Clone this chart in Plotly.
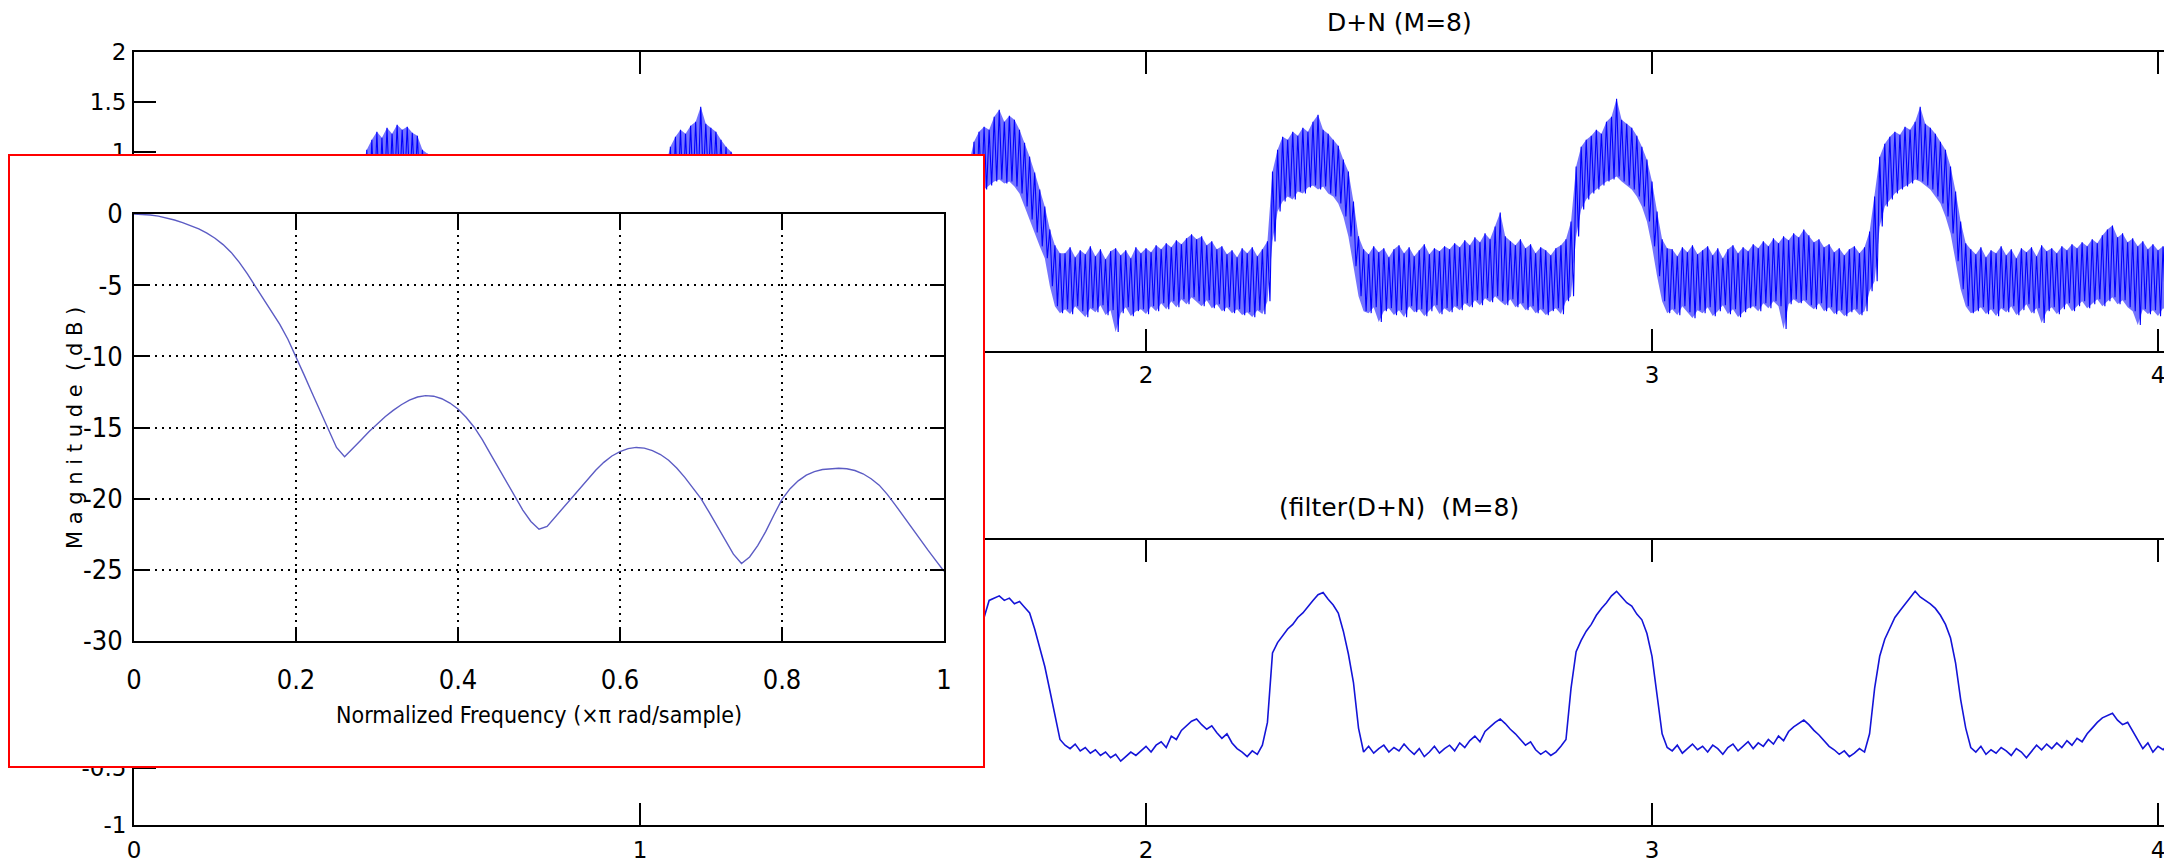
import plotly.graph_objects as go

W, H = 2172, 864
OFF = 8  # the page body margin shifts the figure by 8 px right and down

# ------------------------------------------------------------------ data
time_step = 0.01  # sample spacing of the digitised signals (x from 0.00 to 4.03)

# noisy signal D+N : upper / lower edge of the noise band at each sample
dn_upper = [
    0.02, -0.05, 0.04, -0.01, 0.06, -0.03, 0.01, 0.08, -0.04, 0.03,
    -0.02, 0.05, 0.00, -0.06, 0.04, 0.10, -0.01, 0.03, -0.05, 0.02,
    0.06, -0.02, 0.04, 0.09, 0.03, 0.12, 0.07, 0.16, 0.10, 0.21,
    0.14, 0.18, 0.08, 0.05, 0.11, -0.02, 0.04, -0.05, 0.02, -0.03,
    0.05, -0.04, 0.01, 0.07, 0.10, 0.82, 1.02, 1.12, 1.20, 1.14,
    1.24, 1.18, 1.27, 1.22, 1.25, 1.19, 1.16, 1.02, 0.98, 0.88,
    0.70, 0.42, 0.16, 0.05, -0.03, 0.06, 0.01, -0.05, 0.04, 0.00,
    0.07, -0.02, 0.03, -0.06, 0.05, 0.02, -0.04, 0.08, 0.01, -0.03,
    0.04, 0.09, 0.02, 0.12, 0.06, 0.15, 0.10, 0.19, 0.13, 0.22,
    0.16, 0.11, 0.07, 0.13, 0.03, -0.02, 0.05, -0.04, 0.02, 0.06,
    -0.03, 0.04, -0.01, 0.05, 0.12, 0.85, 1.05, 1.15, 1.22, 1.18,
    1.26, 1.30, 1.45, 1.28, 1.24, 1.20, 1.12, 1.05, 1.00, 0.92,
    0.72, 0.40, 0.12, 0.03, -0.04, 0.05, 0.00, -0.06, 0.03, 0.07,
    -0.02, 0.04, -0.05, 0.01, 0.06, -0.03, 0.02, 0.08, -0.01, 0.04,
    0.09, 0.03, 0.13, 0.07, 0.17, 0.11, 0.20, 0.14, 0.08, 0.12,
    0.05, 0.01, -0.04, 0.06, -0.02, 0.03, -0.06, 0.04, 0.00, -0.03,
    0.05, -0.01, 0.03, 0.08, 0.15, 0.88, 1.10, 1.20, 1.25, 1.22,
    1.35, 1.42, 1.30, 1.36, 1.32, 1.22, 1.09, 0.95, 0.79, 0.62,
    0.45, 0.22, 0.06, -0.02, -0.02, 0.04, -0.06, 0.01, -0.03, 0.05,
    -0.05, 0.02, -0.08, 0.00, 0.03, -0.04, 0.01, -0.07, 0.04, -0.02,
    0.03, -0.01, 0.06, 0.02, 0.08, 0.04, 0.11, 0.07, 0.13, 0.17,
    0.12, 0.15, 0.06, 0.10, 0.02, 0.05, -0.03, 0.01, -0.06, 0.03,
    -0.02, 0.04, -0.05, 0.02, 0.10, 0.80, 1.02, 1.15, 1.12, 1.20,
    1.16, 1.24, 1.20, 1.30, 1.37, 1.22, 1.18, 1.12, 1.06, 0.92,
    0.80, 0.50, 0.15, 0.02, -0.03, 0.05, -0.01, 0.03, -0.06, 0.02,
    0.06, -0.02, 0.04, -0.05, 0.01, 0.07, -0.03, 0.03, 0.00, 0.05,
    0.02, 0.08, 0.04, 0.11, 0.06, 0.14, 0.09, 0.18, 0.12, 0.25,
    0.39, 0.15, 0.10, 0.06, 0.12, 0.03, 0.07, -0.02, 0.04, 0.01,
    -0.04, 0.03, 0.06, 0.12, 0.30, 0.85, 1.05, 1.12, 1.16, 1.22,
    1.18, 1.30, 1.35, 1.53, 1.32, 1.28, 1.24, 1.16, 1.05, 0.92,
    0.70, 0.40, 0.12, 0.03, 0.02, -0.05, 0.04, -0.01, 0.06, -0.03,
    0.01, 0.05, -0.04, 0.03, -0.07, 0.02, 0.06, -0.02, 0.04, 0.00,
    0.07, 0.03, 0.10, 0.05, 0.13, 0.08, 0.15, 0.11, 0.18, 0.14,
    0.22, 0.16, 0.09, 0.12, 0.04, 0.07, -0.01, 0.03, -0.04, 0.02,
    0.05, -0.02, 0.04, 0.20, 0.55, 0.95, 1.08, 1.15, 1.20, 1.17,
    1.25, 1.22, 1.30, 1.45, 1.28, 1.24, 1.18, 1.10, 1.02, 0.85,
    0.60, 0.30, 0.08, 0.02, -0.03, 0.04, -0.06, 0.01, -0.02, 0.05,
    -0.04, 0.02, -0.07, 0.03, -0.01, 0.04, -0.05, 0.06, 0.00, 0.03,
    -0.02, 0.05, 0.01, 0.07, 0.03, 0.09, 0.05, 0.12, 0.08, 0.16,
    0.22, 0.26, 0.14, 0.18, 0.09, 0.13, 0.05, 0.10, 0.02, 0.07,
    0.01, 0.05, -0.02, 0.03,
]

dn_lower = [
    -0.60, -0.55, -0.63, -0.58, -0.66, -0.57, -0.61, -0.54, -0.64, -0.59,
    -0.56, -0.62, -0.58, -0.65, -0.60, -0.53, -0.61, -0.57, -0.64, -0.59,
    -0.55, -0.60, -0.53, -0.58, -0.51, -0.56, -0.49, -0.54, -0.47, -0.52,
    -0.48, -0.53, -0.57, -0.51, -0.59, -0.55, -0.62, -0.58, -0.64, -0.60,
    -0.57, -0.63, -0.59, -0.61, -0.52, 0.08, 0.42, 0.50, 0.55, 0.60,
    0.62, 0.66, 0.68, 0.70, 0.67, 0.65, 0.60, 0.55, 0.45, 0.30,
    0.05, -0.25, -0.50, -0.60, -0.57, -0.63, -0.59, -0.66, -0.61, -0.56,
    -0.62, -0.58, -0.65, -0.60, -0.54, -0.63, -0.59, -0.66, -0.61, -0.57,
    -0.60, -0.55, -0.58, -0.51, -0.56, -0.49, -0.53, -0.47, -0.51, -0.46,
    -0.50, -0.55, -0.59, -0.53, -0.61, -0.57, -0.63, -0.60, -0.66, -0.61,
    -0.58, -0.64, -0.59, -0.62, -0.50, 0.10, 0.44, 0.52, 0.58, 0.61,
    0.65, 0.68, 0.70, 0.72, 0.68, 0.64, 0.60, 0.53, 0.42, 0.28,
    0.02, -0.28, -0.52, -0.61, -0.58, -0.64, -0.60, -0.67, -0.62, -0.57,
    -0.63, -0.59, -0.66, -0.61, -0.55, -0.62, -0.58, -0.65, -0.60, -0.56,
    -0.59, -0.54, -0.57, -0.50, -0.55, -0.48, -0.52, -0.46, -0.50, -0.54,
    -0.49, -0.56, -0.60, -0.54, -0.62, -0.58, -0.64, -0.59, -0.66, -0.62,
    -0.59, -0.65, -0.60, -0.63, -0.55, 0.05, 0.45, 0.58, 0.62, 0.66,
    0.70, 0.72, 0.68, 0.70, 0.65, 0.58, 0.45, 0.32, 0.19, 0.05,
    -0.07, -0.35, -0.55, -0.62, -0.58, -0.63, -0.55, -0.60, -0.66, -0.57,
    -0.61, -0.54, -0.64, -0.59, -0.81, -0.62, -0.56, -0.65, -0.60, -0.58,
    -0.63, -0.55, -0.60, -0.52, -0.58, -0.50, -0.56, -0.48, -0.53, -0.46,
    -0.50, -0.55, -0.49, -0.57, -0.53, -0.60, -0.56, -0.62, -0.58, -0.64,
    -0.61, -0.66, -0.59, -0.63, -0.50, 0.10, 0.40, 0.50, 0.55, 0.52,
    0.60, 0.58, 0.64, 0.66, 0.62, 0.65, 0.58, 0.55, 0.48, 0.35,
    0.15, -0.15, -0.45, -0.60, -0.62, -0.56, -0.71, -0.60, -0.57, -0.64,
    -0.59, -0.66, -0.55, -0.61, -0.58, -0.65, -0.60, -0.54, -0.63, -0.57,
    -0.61, -0.55, -0.59, -0.52, -0.56, -0.49, -0.54, -0.47, -0.51, -0.45,
    -0.50, -0.54, -0.48, -0.56, -0.52, -0.59, -0.55, -0.62, -0.58, -0.64,
    -0.60, -0.57, -0.63, -0.50, -0.45, 0.15, 0.42, 0.52, 0.58, 0.62,
    0.66, 0.70, 0.72, 0.75, 0.70, 0.66, 0.62, 0.55, 0.45, 0.30,
    0.05, -0.25, -0.50, -0.62, -0.58, -0.64, -0.55, -0.61, -0.67, -0.59,
    -0.62, -0.56, -0.65, -0.60, -0.54, -0.63, -0.58, -0.66, -0.61, -0.57,
    -0.55, -0.60, -0.52, -0.57, -0.50, -0.55, -0.78, -0.53, -0.48, -0.52,
    -0.49, -0.54, -0.58, -0.52, -0.60, -0.56, -0.63, -0.59, -0.65, -0.61,
    -0.58, -0.64, -0.60, -0.40, -0.30, 0.25, 0.45, 0.52, 0.58, 0.62,
    0.65, 0.68, 0.72, 0.70, 0.66, 0.62, 0.55, 0.48, 0.35, 0.18,
    -0.10, -0.38, -0.55, -0.62, -0.60, -0.56, -0.63, -0.58, -0.65, -0.57,
    -0.61, -0.55, -0.64, -0.59, -0.53, -0.62, -0.57, -0.72, -0.60, -0.56,
    -0.63, -0.58, -0.52, -0.60, -0.55, -0.50, -0.57, -0.53, -0.48, -0.55,
    -0.50, -0.46, -0.53, -0.49, -0.56, -0.60, -0.74, -0.58, -0.63, -0.59,
    -0.65, -0.57, -0.62, -0.60,
]

# filtered signal filter(D+N)
filtered = [
    -0.30, -0.34, -0.31, -0.36, -0.33, -0.29, -0.35, -0.38, -0.32, -0.30,
    -0.34, -0.37, -0.31, -0.28, -0.33, -0.36, -0.30, -0.34, -0.39, -0.33,
    -0.29, -0.33, -0.30, -0.35, -0.31, -0.27, -0.22, -0.17, -0.12, -0.09,
    -0.08, -0.13, -0.18, -0.25, -0.30, -0.34, -0.31, -0.37, -0.40, -0.36,
    -0.33, -0.38, -0.35, -0.31, -0.30, 0.45, 0.58, 0.66, 0.73, 0.77,
    0.84, 0.87, 0.94, 0.99, 1.03, 1.01, 0.96, 0.92, 0.87, 0.70,
    0.43, 0.04, -0.23, -0.35, -0.32, -0.38, -0.34, -0.30, -0.36, -0.41,
    -0.37, -0.33, -0.39, -0.42, -0.36, -0.31, -0.35, -0.38, -0.33, -0.29,
    -0.34, -0.31, -0.37, -0.35, -0.30, -0.26, -0.20, -0.14, -0.09, -0.11,
    -0.16, -0.22, -0.29, -0.33, -0.37, -0.34, -0.39, -0.36, -0.41, -0.37,
    -0.33, -0.38, -0.36, -0.32, -0.28, 0.47, 0.59, 0.68, 0.72, 0.79,
    0.82, 0.89, 0.92, 0.99, 1.05, 1.02, 0.98, 0.93, 0.86, 0.73,
    0.46, 0.06, -0.21, -0.33, -0.36, -0.31, -0.38, -0.35, -0.40, -0.34,
    -0.37, -0.43, -0.38, -0.33, -0.36, -0.31, -0.35, -0.39, -0.32, -0.30,
    -0.35, -0.31, -0.28, -0.33, -0.27, -0.21, -0.15, -0.10, -0.08, -0.13,
    -0.19, -0.24, -0.30, -0.35, -0.32, -0.38, -0.36, -0.41, -0.37, -0.33,
    -0.38, -0.35, -0.39, -0.34, -0.30, 0.45, 0.62, 0.72, 0.82, 0.97,
    0.99, 1.01, 0.97, 0.99, 0.94, 0.96, 0.91, 0.86, 0.72, 0.55,
    0.39, 0.18, -0.05, -0.25, -0.30, -0.33, -0.29, -0.35, -0.32, -0.37,
    -0.34, -0.39, -0.36, -0.41, -0.38, -0.44, -0.40, -0.36, -0.39, -0.35,
    -0.31, -0.36, -0.30, -0.27, -0.32, -0.22, -0.25, -0.17, -0.13, -0.09,
    -0.07, -0.12, -0.16, -0.13, -0.19, -0.24, -0.20, -0.28, -0.33, -0.36,
    -0.40, -0.35, -0.38, -0.30, -0.10, 0.51, 0.60, 0.66, 0.72, 0.76,
    0.82, 0.86, 0.92, 0.97, 1.02, 1.04, 0.98, 0.93, 0.86, 0.70,
    0.50, 0.25, -0.15, -0.36, -0.31, -0.37, -0.33, -0.30, -0.36, -0.32,
    -0.35, -0.29, -0.34, -0.38, -0.33, -0.40, -0.36, -0.31, -0.37, -0.33,
    -0.30, -0.35, -0.28, -0.32, -0.26, -0.22, -0.27, -0.18, -0.14, -0.10,
    -0.07, -0.11, -0.16, -0.20, -0.25, -0.30, -0.27, -0.34, -0.38, -0.35,
    -0.39, -0.36, -0.31, -0.25, 0.20, 0.52, 0.62, 0.70, 0.76, 0.84,
    0.90, 0.95, 1.01, 1.05, 1.00, 0.95, 0.92, 0.85, 0.80, 0.68,
    0.48, 0.15, -0.20, -0.32, -0.35, -0.30, -0.37, -0.33, -0.29, -0.34,
    -0.31, -0.36, -0.30, -0.33, -0.38, -0.32, -0.29, -0.35, -0.31, -0.27,
    -0.33, -0.28, -0.31, -0.25, -0.29, -0.22, -0.26, -0.18, -0.14, -0.11,
    -0.08, -0.12, -0.17, -0.21, -0.26, -0.31, -0.34, -0.38, -0.35, -0.40,
    -0.37, -0.33, -0.36, -0.20, 0.20, 0.48, 0.63, 0.72, 0.82, 0.88,
    0.94, 0.99, 1.05, 1.00, 0.97, 0.94, 0.90, 0.84, 0.76, 0.64,
    0.42, 0.10, -0.15, -0.32, -0.36, -0.31, -0.38, -0.34, -0.37, -0.32,
    -0.35, -0.39, -0.33, -0.36, -0.41, -0.35, -0.30, -0.34, -0.29, -0.33,
    -0.28, -0.32, -0.26, -0.30, -0.24, -0.27, -0.20, -0.15, -0.10, -0.06,
    -0.04, -0.02, -0.08, -0.12, -0.10, -0.18, -0.25, -0.33, -0.28, -0.36,
    -0.31, -0.34, -0.29, -0.33,
]

# magnitude response of the filter (inset), read every 0.01 of normalised frequency
freq_step = 0.01
mag_db = [
    0.00, -0.02, -0.07, -0.15, -0.27, -0.42, -0.60, -0.81, -1.05, -1.35,
    -1.70, -2.15, -2.70, -3.40, -4.20, -5.10, -6.00, -6.85, -7.75, -8.80,
    -10.00, -11.30, -12.60, -13.90, -15.20, -16.40, -17.05, -16.50, -15.90, -15.30,
    -14.75, -14.25, -13.80, -13.40, -13.08, -12.86, -12.76, -12.80, -12.98, -13.28,
    -13.70, -14.28, -14.98, -15.85, -16.85, -17.85, -18.85, -19.85, -20.80, -21.60,
    -22.15, -21.95, -21.30, -20.65, -20.00, -19.30, -18.65, -18.00, -17.45, -17.00,
    -16.70, -16.48, -16.40, -16.45, -16.62, -16.90, -17.30, -17.85, -18.50, -19.22,
    -20.00, -20.95, -21.95, -22.95, -23.90, -24.55, -24.10, -23.30, -22.30, -21.15,
    -20.05, -19.30, -18.75, -18.35, -18.10, -17.95, -17.88, -17.86, -17.90, -18.02,
    -18.25, -18.60, -19.05, -19.70, -20.45, -21.25, -22.05, -22.85, -23.60, -24.35,
    -25.10,
]

main_xticks = [0, 1, 2, 3, 4]
top_xtext = ["", "", "2", "3", "4"]              # 0 and 1 lie under the inset
bot_xtext = ["0", "1", "2", "3", "4"]
top_yticks = [-1, -0.5, 0, 0.5, 1, 1.5, 2]
top_ytext = ["", "", "", "", "1", "1.5", "2"]    # lower labels lie under the inset
bot_yticks = [-1, -0.5, 0, 0.5, 1, 1.5]
bot_ytext = ["-1", "-0.5", "", "", "", ""]       # upper labels lie under the inset
inset_xticks = [0, 0.2, 0.4, 0.6, 0.8, 1]
inset_xtext = ["0", "0.2", "0.4", "0.6", "0.8", "1"]
inset_yticks = [-30, -25, -20, -15, -10, -5, 0]
inset_ytext = ["-30", "-25", "-20", "-15", "-10", "-5", "0"]

title_top = "D+N (M=8)"
title_bot = "(filter(D+N)\u00a0 (M=8)"
inset_xlabel = "Normalized Frequency (\u00d7\u03c0 rad/sample)"
inset_ylabel = "M a g n i t u d e \u00a0( d B )"

# ------------------------------------------------------------------ helpers
def dom_x(left, right):
    return [(left - OFF) / W, min(1.0, (right - OFF) / W)]


def dom_y(top, bottom):
    return [1 - (bottom - OFF) / H, 1 - (top - OFF) / H]


def px(x):
    return (x - OFF) / W


def py(y):
    return 1 - (y - OFF) / H


MAIN_FONT = dict(family="DejaVu Sans", size=23, color="black")
NARROW_FAMILY = "Liberation Sans Narrow, Arial Narrow, DejaVu Sans Condensed, sans-serif"
NARROW_FONT = dict(family=NARROW_FAMILY, size=27, color="black")

t_axis = [i * time_step for i in range(len(dn_upper))]
# zig-zag between the band edges to draw the noisy trace
zx, zy = [], []
for t, hi, lo in zip(t_axis, dn_upper, dn_lower):
    zx += [t, t + time_step / 2]
    zy += [hi, lo]
fx = [i * time_step for i in range(len(filtered))]
freq = [i * freq_step for i in range(len(mag_db))]

fig = go.Figure()
# solid core of the noise band
fig.add_trace(go.Scatter(x=t_axis + t_axis[::-1], y=dn_upper + dn_lower[::-1], mode="lines",
                         fill="toself", fillcolor="rgba(0,0,255,0.55)", line=dict(width=0),
                         xaxis="x", yaxis="y", showlegend=False, hoverinfo="skip"))
fig.add_trace(go.Scatter(x=zx, y=zy, mode="lines", line=dict(color="#0000ff", width=1.1),
                         xaxis="x", yaxis="y", showlegend=False, hoverinfo="skip"))
fig.add_trace(go.Scatter(x=fx, y=filtered, mode="lines", line=dict(color="#1414d8", width=1.6),
                         xaxis="x2", yaxis="y2", showlegend=False, hoverinfo="skip"))
fig.add_trace(go.Scatter(x=[], y=[], mode="lines", xaxis="x3", yaxis="y3",
                         showlegend=False, hoverinfo="skip"))
fig.add_trace(go.Scatter(x=freq, y=mag_db, mode="lines",
                         line=dict(color="#5c5cc4", width=1.4),
                         xaxis="x4", yaxis="y4", showlegend=False, hoverinfo="skip"))

x_max = (W + OFF - 134) / 506.0
main_ax = dict(showline=True, linecolor="black", linewidth=2, ticks="inside", ticklen=22,
               tickwidth=2, tickcolor="black", showgrid=False, zeroline=False,
               tickfont=MAIN_FONT, automargin=False)
frame_ax = dict(range=[0, 1], showline=True, mirror=True, linecolor="#ff0000", linewidth=2,
                ticks="", showticklabels=False, showgrid=False, zeroline=False, automargin=False)
inset_ax = dict(showline=True, mirror="ticks", linecolor="black", linewidth=2,
                ticks="inside", ticklen=14, tickwidth=2, tickcolor="black",
                showgrid=True, gridcolor="black", gridwidth=2, griddash="2px,5px",
                zeroline=False, tickfont=NARROW_FONT, automargin=False)

fig.update_layout(
    width=W, height=H,
    template="none",
    margin=dict(l=0, r=0, t=0, b=0, pad=0),
    paper_bgcolor="white", plot_bgcolor="white",
    showlegend=False,
    xaxis=dict(domain=dom_x(134, W + OFF), range=[0, x_max], tickvals=main_xticks,
               ticktext=top_xtext, mirror="ticks", anchor="y", ticklabelstandoff=2, **main_ax),
    yaxis=dict(domain=dom_y(52, 351), range=[-1, 2], tickvals=top_yticks, ticktext=top_ytext,
               anchor="x", ticklabelstandoff=1, **main_ax),
    xaxis2=dict(domain=dom_x(134, W + OFF), range=[0, x_max], tickvals=main_xticks,
                ticktext=bot_xtext, mirror="ticks", anchor="y2", ticklabelstandoff=3, **main_ax),
    yaxis2=dict(domain=dom_y(540, 825), range=[-1, 1.5], tickvals=bot_yticks, ticktext=bot_ytext,
                anchor="x2", ticklabelstandoff=1, **main_ax),
    xaxis3=dict(domain=dom_x(10, 983), anchor="y3", **frame_ax),
    yaxis3=dict(domain=dom_y(156, 766), anchor="x3", **frame_ax),
    xaxis4=dict(domain=dom_x(134, 944), range=[0, 1], anchor="y4", tickvals=inset_xticks,
                ticktext=inset_xtext, ticklabelstandoff=14, **inset_ax),
    yaxis4=dict(domain=dom_y(214, 641), range=[-30, 0], anchor="x4", tickvals=inset_yticks,
                ticktext=inset_ytext, ticklabelstandoff=4, **inset_ax),
    annotations=[
        dict(text=title_top, xref="x", yref="paper", x=2.5, y=py(22), showarrow=False,
             xanchor="center", yanchor="middle",
             font=dict(family="DejaVu Sans", size=25, color="black")),
        dict(text=title_bot, xref="x2", yref="paper", x=2.5, y=py(507), showarrow=False,
             xanchor="center", yanchor="middle",
             font=dict(family="DejaVu Sans", size=25, color="black")),
        dict(text=inset_xlabel, xref="paper", yref="paper", x=px(539), y=py(715),
             showarrow=False, xanchor="center", yanchor="middle",
             font=dict(family=NARROW_FAMILY, size=23, color="black")),
        dict(text=inset_ylabel, xref="paper", yref="paper", x=px(75), y=py(428),
             showarrow=False, textangle=-90, xanchor="center", yanchor="middle",
             font=dict(family="DejaVu Sans", size=21, color="black")),
    ],
)

fig.write_html("out.html")
